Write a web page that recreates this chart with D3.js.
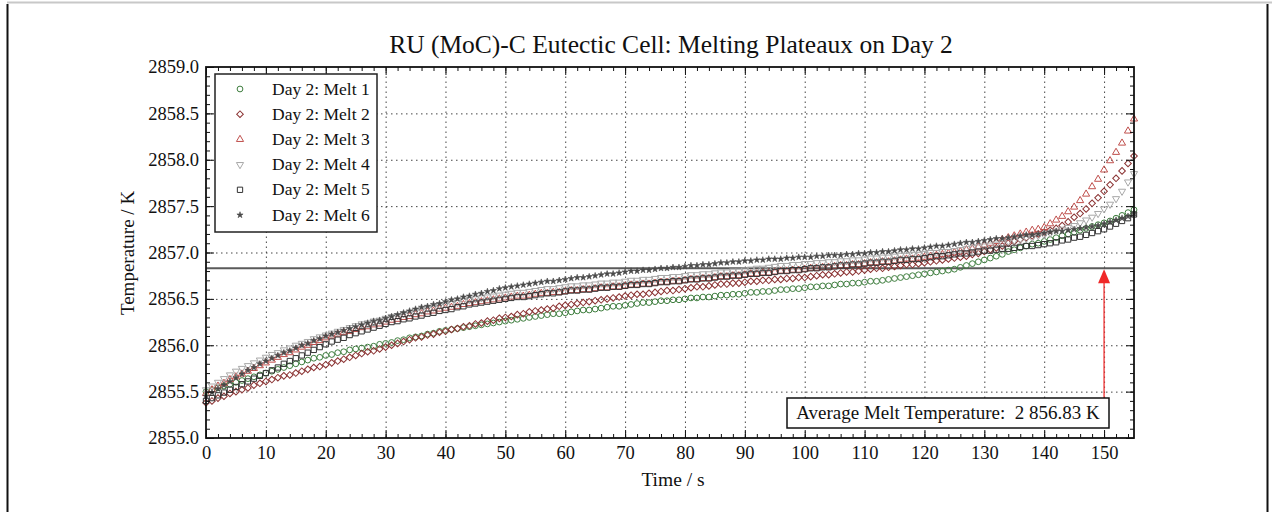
<!DOCTYPE html>
<html>
<head>
<meta charset="utf-8">
<script src="https://cdn.jsdelivr.net/npm/d3@7"></script>
<style>
  body { margin: 0; background: #fff; }
  svg text { font-family: "Liberation Serif", "Times New Roman", serif; fill: #111; }
  .grid line { stroke: #444; stroke-dasharray: 1.5,3.5; }
  .grid path { display: none; }
  .ax path { display: none; }
  .ax line { stroke: #111; stroke-width: 1; }
</style>
</head>
<body>
<svg id="chart" width="1272" height="512"></svg>
<script>
// Melt curves, one sample per second (t = 0 .. 155 s)
var melt1 = [2855.50,2855.52,2855.54,2855.56,2855.58,2855.60,2855.62,2855.64,2855.66,2855.68,2855.70,
  2855.72,2855.74,2855.76,2855.78,2855.80,2855.82,2855.84,2855.86,2855.87,2855.89,
  2855.90,2855.92,2855.93,2855.95,2855.96,2855.97,2855.98,2855.99,2856.01,2856.02,
  2856.03,2856.05,2856.06,2856.08,2856.09,2856.10,2856.12,2856.13,2856.15,2856.16,
  2856.17,2856.18,2856.19,2856.20,2856.21,2856.22,2856.23,2856.24,2856.25,2856.26,
  2856.27,2856.28,2856.29,2856.30,2856.31,2856.32,2856.33,2856.34,2856.34,2856.35,
  2856.36,2856.37,2856.38,2856.38,2856.39,2856.40,2856.41,2856.42,2856.42,2856.43,
  2856.44,2856.45,2856.46,2856.46,2856.47,2856.48,2856.48,2856.49,2856.49,2856.50,
  2856.51,2856.51,2856.52,2856.52,2856.53,2856.54,2856.54,2856.55,2856.55,2856.56,
  2856.57,2856.57,2856.58,2856.58,2856.59,2856.60,2856.60,2856.61,2856.61,2856.62,
  2856.63,2856.63,2856.64,2856.64,2856.65,2856.66,2856.66,2856.67,2856.67,2856.68,
  2856.69,2856.69,2856.70,2856.71,2856.72,2856.73,2856.74,2856.75,2856.76,2856.77,
  2856.78,2856.79,2856.80,2856.81,2856.82,2856.84,2856.86,2856.88,2856.90,2856.92,
  2856.94,2856.96,2856.98,2857.01,2857.03,2857.05,2857.07,2857.09,2857.10,2857.12,
  2857.14,2857.16,2857.18,2857.20,2857.22,2857.24,2857.26,2857.28,2857.30,2857.32,
  2857.34,2857.37,2857.40,2857.43,2857.46];

var melt2 = [2855.38,2855.40,2855.43,2855.45,2855.48,2855.50,2855.52,2855.54,2855.57,2855.59,2855.61,
  2855.63,2855.65,2855.67,2855.68,2855.70,2855.72,2855.74,2855.76,2855.77,2855.79,
  2855.81,2855.83,2855.85,2855.87,2855.89,2855.91,2855.93,2855.94,2855.96,2855.98,
  2856.00,2856.02,2856.04,2856.06,2856.08,2856.09,2856.11,2856.12,2856.14,2856.15,
  2856.17,2856.18,2856.20,2856.21,2856.23,2856.24,2856.26,2856.27,2856.29,2856.30,
  2856.31,2856.33,2856.34,2856.36,2856.37,2856.38,2856.39,2856.40,2856.42,2856.43,
  2856.44,2856.45,2856.46,2856.47,2856.48,2856.49,2856.50,2856.51,2856.52,2856.53,
  2856.54,2856.55,2856.55,2856.56,2856.57,2856.58,2856.59,2856.59,2856.60,2856.61,
  2856.62,2856.63,2856.63,2856.64,2856.65,2856.66,2856.66,2856.67,2856.67,2856.68,
  2856.69,2856.69,2856.70,2856.70,2856.71,2856.71,2856.72,2856.72,2856.73,2856.73,
  2856.74,2856.75,2856.76,2856.76,2856.77,2856.78,2856.79,2856.79,2856.80,2856.81,
  2856.82,2856.83,2856.83,2856.84,2856.85,2856.86,2856.87,2856.87,2856.88,2856.89,
  2856.90,2856.91,2856.92,2856.93,2856.94,2856.95,2856.96,2856.98,2856.99,2857.01,
  2857.03,2857.05,2857.07,2857.10,2857.12,2857.14,2857.16,2857.18,2857.20,2857.22,
  2857.24,2857.26,2857.29,2857.33,2857.38,2857.42,2857.47,2857.53,2857.59,2857.66,
  2857.73,2857.80,2857.88,2857.96,2858.04];

var melt3 = [2855.48,2855.52,2855.56,2855.59,2855.63,2855.66,2855.69,2855.72,2855.75,2855.78,2855.81,
  2855.84,2855.87,2855.90,2855.92,2855.95,2855.98,2856.00,2856.03,2856.05,2856.08,
  2856.10,2856.12,2856.14,2856.15,2856.17,2856.19,2856.20,2856.22,2856.23,2856.25,
  2856.27,2856.28,2856.30,2856.31,2856.33,2856.34,2856.36,2856.37,2856.39,2856.40,
  2856.41,2856.42,2856.44,2856.45,2856.46,2856.47,2856.48,2856.49,2856.50,2856.51,
  2856.52,2856.53,2856.53,2856.54,2856.55,2856.56,2856.56,2856.57,2856.57,2856.58,
  2856.59,2856.59,2856.60,2856.60,2856.61,2856.62,2856.62,2856.63,2856.63,2856.64,
  2856.65,2856.65,2856.66,2856.66,2856.67,2856.68,2856.68,2856.69,2856.69,2856.70,
  2856.71,2856.71,2856.72,2856.72,2856.73,2856.74,2856.74,2856.75,2856.75,2856.76,
  2856.77,2856.77,2856.78,2856.78,2856.79,2856.80,2856.80,2856.81,2856.81,2856.82,
  2856.83,2856.83,2856.84,2856.84,2856.85,2856.86,2856.86,2856.87,2856.87,2856.88,
  2856.89,2856.89,2856.90,2856.90,2856.91,2856.92,2856.93,2856.93,2856.94,2856.95,
  2856.96,2856.97,2856.98,2856.99,2857.00,2857.01,2857.03,2857.04,2857.06,2857.08,
  2857.10,2857.12,2857.14,2857.16,2857.18,2857.20,2857.22,2857.24,2857.25,2857.27,
  2857.31,2857.35,2857.39,2857.44,2857.49,2857.56,2857.63,2857.71,2857.79,2857.89,
  2857.99,2858.08,2858.18,2858.31,2858.44];

var melt4 = [2855.52,2855.56,2855.60,2855.64,2855.68,2855.72,2855.75,2855.78,2855.81,2855.84,2855.87,
  2855.90,2855.92,2855.95,2855.97,2856.00,2856.02,2856.04,2856.07,2856.09,2856.11,
  2856.13,2856.15,2856.17,2856.19,2856.21,2856.23,2856.24,2856.26,2856.27,2856.29,
  2856.31,2856.32,2856.34,2856.35,2856.37,2856.38,2856.40,2856.41,2856.43,2856.44,
  2856.45,2856.46,2856.48,2856.49,2856.50,2856.51,2856.52,2856.53,2856.54,2856.55,
  2856.56,2856.57,2856.57,2856.58,2856.59,2856.60,2856.61,2856.61,2856.62,2856.63,
  2856.64,2856.64,2856.65,2856.65,2856.66,2856.67,2856.67,2856.68,2856.68,2856.69,
  2856.70,2856.70,2856.71,2856.71,2856.72,2856.73,2856.73,2856.74,2856.74,2856.75,
  2856.76,2856.76,2856.77,2856.77,2856.78,2856.79,2856.79,2856.80,2856.80,2856.81,
  2856.82,2856.83,2856.83,2856.84,2856.85,2856.86,2856.86,2856.87,2856.87,2856.88,
  2856.88,2856.89,2856.89,2856.90,2856.90,2856.91,2856.91,2856.92,2856.92,2856.93,
  2856.94,2856.94,2856.95,2856.95,2856.96,2856.97,2856.97,2856.98,2856.98,2856.99,
  2857.00,2857.00,2857.01,2857.01,2857.02,2857.03,2857.04,2857.05,2857.06,2857.07,
  2857.08,2857.09,2857.10,2857.12,2857.13,2857.14,2857.15,2857.16,2857.18,2857.19,
  2857.21,2857.23,2857.25,2857.27,2857.29,2857.32,2857.35,2857.38,2857.42,2857.47,
  2857.52,2857.58,2857.66,2857.76,2857.85];

var melt5 = [2855.40,2855.43,2855.46,2855.49,2855.52,2855.55,2855.58,2855.61,2855.64,2855.67,2855.70,
  2855.73,2855.76,2855.80,2855.83,2855.86,2855.89,2855.92,2855.95,2855.98,2856.01,
  2856.04,2856.06,2856.08,2856.11,2856.13,2856.15,2856.17,2856.19,2856.21,2856.23,
  2856.25,2856.26,2856.28,2856.29,2856.31,2856.32,2856.34,2856.35,2856.37,2856.38,
  2856.39,2856.41,2856.42,2856.44,2856.45,2856.46,2856.47,2856.48,2856.49,2856.50,
  2856.51,2856.52,2856.52,2856.53,2856.54,2856.55,2856.56,2856.56,2856.57,2856.58,
  2856.59,2856.59,2856.60,2856.60,2856.61,2856.62,2856.62,2856.63,2856.63,2856.64,
  2856.65,2856.65,2856.66,2856.66,2856.67,2856.68,2856.68,2856.69,2856.69,2856.70,
  2856.71,2856.71,2856.72,2856.72,2856.73,2856.74,2856.74,2856.75,2856.75,2856.76,
  2856.77,2856.77,2856.78,2856.78,2856.79,2856.80,2856.80,2856.81,2856.81,2856.82,
  2856.83,2856.83,2856.84,2856.84,2856.85,2856.86,2856.86,2856.87,2856.87,2856.88,
  2856.89,2856.89,2856.90,2856.90,2856.91,2856.92,2856.92,2856.93,2856.93,2856.94,
  2856.95,2856.96,2856.96,2856.97,2856.98,2856.99,2856.99,2857.00,2857.01,2857.02,
  2857.02,2857.03,2857.04,2857.04,2857.05,2857.06,2857.07,2857.07,2857.08,2857.09,
  2857.10,2857.11,2857.13,2857.14,2857.16,2857.17,2857.19,2857.21,2857.23,2857.25,
  2857.28,2857.31,2857.34,2857.37,2857.41];

var melt6 = [2855.45,2855.49,2855.53,2855.57,2855.61,2855.65,2855.69,2855.73,2855.76,2855.80,2855.83,
  2855.86,2855.89,2855.92,2855.94,2855.97,2856.00,2856.02,2856.05,2856.07,2856.10,
  2856.12,2856.14,2856.16,2856.18,2856.20,2856.22,2856.24,2856.26,2856.27,2856.29,
  2856.31,2856.33,2856.35,2856.37,2856.39,2856.41,2856.42,2856.44,2856.45,2856.47,
  2856.49,2856.50,2856.52,2856.53,2856.55,2856.56,2856.58,2856.59,2856.61,2856.62,
  2856.63,2856.64,2856.65,2856.66,2856.67,2856.68,2856.69,2856.69,2856.70,2856.71,
  2856.72,2856.73,2856.73,2856.74,2856.75,2856.76,2856.77,2856.77,2856.78,2856.79,
  2856.80,2856.80,2856.81,2856.81,2856.82,2856.83,2856.83,2856.84,2856.84,2856.85,
  2856.86,2856.86,2856.87,2856.87,2856.88,2856.89,2856.89,2856.90,2856.90,2856.91,
  2856.91,2856.92,2856.92,2856.93,2856.93,2856.93,2856.94,2856.94,2856.95,2856.95,
  2856.95,2856.96,2856.96,2856.97,2856.97,2856.97,2856.98,2856.98,2856.99,2856.99,
  2857.00,2857.00,2857.01,2857.01,2857.02,2857.03,2857.03,2857.04,2857.04,2857.05,
  2857.06,2857.07,2857.07,2857.08,2857.09,2857.10,2857.11,2857.11,2857.12,2857.13,
  2857.14,2857.15,2857.15,2857.16,2857.17,2857.18,2857.19,2857.19,2857.20,2857.21,
  2857.22,2857.23,2857.23,2857.24,2857.25,2857.26,2857.27,2857.28,2857.29,2857.31,
  2857.33,2857.35,2857.37,2857.39,2857.42];

var seriesNames = ["Day 2: Melt 1", "Day 2: Melt 2", "Day 2: Melt 3",
  "Day 2: Melt 4", "Day 2: Melt 5", "Day 2: Melt 6"];
var xTicks = [0, 10, 20, 30, 40, 50, 60, 70, 80, 90, 100, 110, 120, 130, 140, 150];
var yTicks = [2855.0, 2855.5, 2856.0, 2856.5, 2857.0, 2857.5, 2858.0, 2858.5, 2859.0];
var avgMeltTemp = 2856.83;
var arrowTime = 150;

// marker look for each melt
var markers = [
  { sym: d3.symbolCircle,   size: 26, rot: 0,   stroke: "#3d7d3d", fill: "none" },
  { sym: d3.symbolSquare,   size: 22, rot: 45,  stroke: "#8b3333", fill: "none" },
  { sym: d3.symbolTriangle, size: 22, rot: 0,   stroke: "#c0504d", fill: "none" },
  { sym: d3.symbolTriangle, size: 22, rot: 180, stroke: "#a8a8a8", fill: "none" },
  { sym: d3.symbolSquare,   size: 28, rot: 0,   stroke: "#333333", fill: "none" },
  { sym: d3.symbolStar,     size: 12, rot: 0,   stroke: "#4a4a4a", fill: "#4a4a4a" }
];
var allMelts = [melt1, melt2, melt3, melt4, melt5, melt6];

var svg = d3.select("#chart");
var margin = { left: 206, right: 1134, top: 67, bottom: 438 };

// page frame around the figure
svg.append("line").attr("x1", 7).attr("x2", 1272).attr("y1", 2.5).attr("y2", 2.5)
  .attr("stroke", "#c8c8c8").attr("stroke-width", 2);
svg.append("line").attr("x1", 7.5).attr("x2", 7.5).attr("y1", 4).attr("y2", 512)
  .attr("stroke", "#111").attr("stroke-width", 2);
svg.append("line").attr("x1", 1267.5).attr("x2", 1267.5).attr("y1", 4).attr("y2", 512)
  .attr("stroke", "#111").attr("stroke-width", 2);

var x = d3.scaleLinear().domain([0, 155]).range([margin.left, margin.right]);
var y = d3.scaleLinear().domain([2855, 2859]).range([margin.bottom, margin.top]);
var plotH = margin.bottom - margin.top;
var plotW = margin.right - margin.left;

// dotted grid
svg.append("g").attr("class", "grid")
  .attr("transform", "translate(0," + margin.bottom + ")")
  .call(d3.axisBottom(x).tickValues(xTicks.filter(function(d) { return d > 0; }))
    .tickSize(-plotH).tickFormat(""));
svg.append("g").attr("class", "grid")
  .attr("transform", "translate(" + margin.left + ",0)")
  .call(d3.axisLeft(y).tickValues(yTicks.filter(function(d) { return d > 2855 && d < 2859; }))
    .tickSize(-plotW).tickFormat(""));

// average melt temperature line
svg.append("line")
  .attr("x1", x(0)).attr("x2", x(155))
  .attr("y1", y(avgMeltTemp)).attr("y2", y(avgMeltTemp))
  .attr("stroke", "#5a5a5a").attr("stroke-width", 2);

// data points
allMelts.forEach(function(vals, i) {
  var m = markers[i];
  var shape = d3.symbol().type(m.sym).size(m.size);
  svg.append("g").attr("class", "melt melt-" + (i + 1))
    .selectAll("path")
    .data(vals)
    .enter().append("path")
    .attr("d", shape)
    .attr("transform", function(d, t) {
      return "translate(" + x(t) + "," + y(d) + ") rotate(" + m.rot + ")";
    })
    .attr("fill", m.fill)
    .attr("stroke", m.stroke)
    .attr("stroke-width", i === 5 ? 0.6 : 1);
});

// inward ticks on all four sides
function ticksFor(axisFn, scale, values, size, labels) {
  return axisFn(scale).tickValues(values).tickSize(-size).tickPadding(8)
    .tickFormat(labels ? null : "");
}
var xMinor = d3.range(0, 156, 2);
var yMinor = d3.range(28550, 28591, 1).map(function(d) { return d / 10; });

svg.append("g").attr("class", "ax").attr("transform", "translate(0," + margin.bottom + ")")
  .call(ticksFor(d3.axisBottom, x, xMinor, 4, false));
svg.append("g").attr("class", "ax x-axis").attr("transform", "translate(0," + margin.bottom + ")")
  .call(ticksFor(d3.axisBottom, x, xTicks, 8, true).tickFormat(d3.format("d")));
svg.append("g").attr("class", "ax").attr("transform", "translate(0," + margin.top + ")")
  .call(ticksFor(d3.axisTop, x, xMinor, 4, false));
svg.append("g").attr("class", "ax").attr("transform", "translate(0," + margin.top + ")")
  .call(ticksFor(d3.axisTop, x, xTicks, 8, false));

svg.append("g").attr("class", "ax").attr("transform", "translate(" + margin.left + ",0)")
  .call(ticksFor(d3.axisLeft, y, yMinor, 4, false));
svg.append("g").attr("class", "ax y-axis").attr("transform", "translate(" + margin.left + ",0)")
  .call(ticksFor(d3.axisLeft, y, yTicks, 8, true).tickFormat(d3.format(".1f")));
svg.append("g").attr("class", "ax").attr("transform", "translate(" + margin.right + ",0)")
  .call(ticksFor(d3.axisRight, y, yMinor, 4, false));
svg.append("g").attr("class", "ax").attr("transform", "translate(" + margin.right + ",0)")
  .call(ticksFor(d3.axisRight, y, yTicks, 8, false));

svg.selectAll(".x-axis text, .y-axis text")
  .style("font-size", "18.5px")
  .style("font-family", "'Liberation Serif', 'Times New Roman', serif")
  .attr("fill", "#111");
svg.selectAll(".y-axis text").attr("x", -7);

// plot frame
svg.append("rect")
  .attr("x", margin.left).attr("y", margin.top)
  .attr("width", plotW).attr("height", plotH)
  .attr("fill", "none").attr("stroke", "#111").attr("stroke-width", 1.8);

// arrow pointing to the average line
var arrowX = x(arrowTime);
var boxTop = 398;
svg.append("line")
  .attr("x1", arrowX).attr("x2", arrowX)
  .attr("y1", boxTop).attr("y2", y(avgMeltTemp) + 12)
  .attr("stroke", "#f03030").attr("stroke-width", 1.3);
svg.append("path")
  .attr("d", "M" + arrowX + "," + (y(avgMeltTemp) + 1) +
    "L" + (arrowX - 6) + "," + (y(avgMeltTemp) + 15) +
    "L" + (arrowX + 6) + "," + (y(avgMeltTemp) + 15) + "Z")
  .attr("fill", "#f02828");

// annotation box
var note = svg.append("g");
note.append("rect")
  .attr("x", 787).attr("y", boxTop).attr("width", 322).attr("height", 30)
  .attr("fill", "#fff").attr("stroke", "#111").attr("stroke-width", 1.5);
note.append("text")
  .attr("x", 948).attr("y", 419)
  .attr("text-anchor", "middle")
  .style("font-size", "19px")
  .attr("xml:space", "preserve")
  .text("Average Melt Temperature:  2 856.83 K");

// legend
var legend = svg.append("g");
legend.append("rect")
  .attr("x", 215).attr("y", 74).attr("width", 162).attr("height", 158)
  .attr("fill", "#fff").attr("stroke", "#222").attr("stroke-width", 1.5);
seriesNames.forEach(function(name, i) {
  var m = markers[i];
  var rowY = 89 + i * 25.2;
  legend.append("path")
    .attr("d", d3.symbol().type(m.sym).size(m.size)())
    .attr("transform", "translate(240," + rowY + ") rotate(" + m.rot + ")")
    .attr("fill", m.fill).attr("stroke", m.stroke)
    .attr("stroke-width", i === 5 ? 0.6 : 1);
  legend.append("text")
    .attr("x", 272).attr("y", rowY + 5.5)
    .style("font-size", "17.5px")
    .text(name);
});

// titles
svg.append("text")
  .attr("x", 671).attr("y", 53)
  .attr("text-anchor", "middle")
  .style("font-size", "25.5px")
  .text("RU (MoC)-C Eutectic Cell: Melting Plateaux on Day 2");
svg.append("text")
  .attr("x", 673).attr("y", 486)
  .attr("text-anchor", "middle")
  .style("font-size", "19.5px")
  .text("Time / s");
svg.append("text")
  .attr("transform", "translate(134,253) rotate(-90)")
  .attr("text-anchor", "middle")
  .style("font-size", "19px")
  .text("Temperature / K");
</script>
</body>
</html>
